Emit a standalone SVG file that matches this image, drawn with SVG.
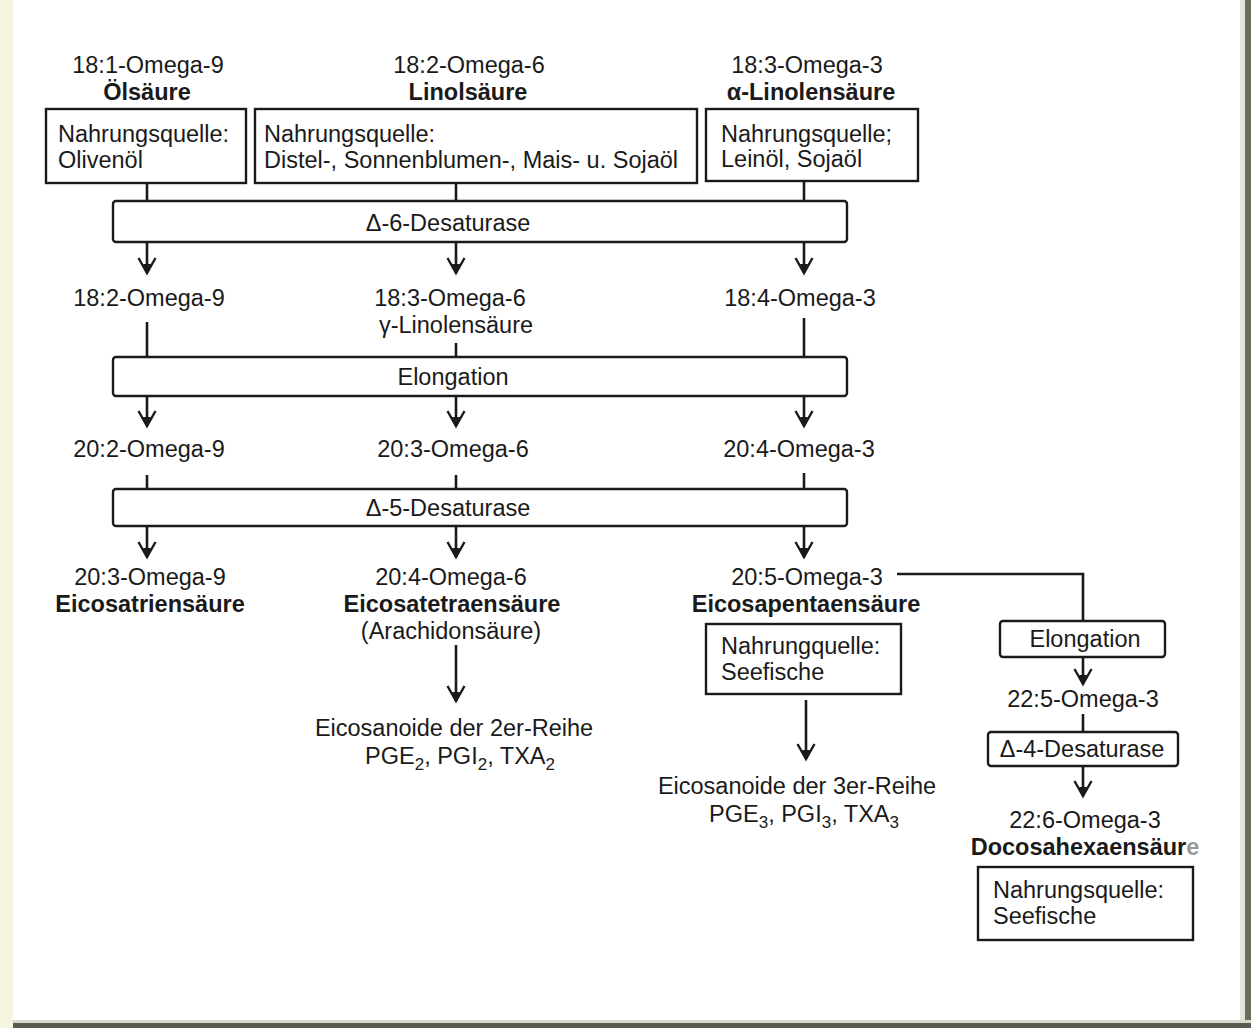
<svg xmlns="http://www.w3.org/2000/svg" width="1251" height="1028" viewBox="0 0 1251 1028">
<style>
  text { font-family: "Liberation Sans", Arial, sans-serif; font-size: 23.5px; fill: #1a1a1a; }
  .b { font-weight: bold; }
  .m { text-anchor: middle; }
  .box { fill: #ffffff; stroke: #1a1a1a; stroke-width: 2.4; }
  .bar { fill: #ffffff; stroke: #1a1a1a; stroke-width: 2.4; }
  .ln { fill: none; stroke: #1a1a1a; stroke-width: 2.6; }
  .sub { font-size: 17px; }
</style>
<defs>
  <marker id="ah" markerUnits="userSpaceOnUse" markerWidth="24" markerHeight="24" viewBox="-18 -12 24 24" refX="0" refY="0" orient="auto">
    <path d="M-15,-8.5 L0,0 L-15,8.5" fill="none" stroke="#1a1a1a" stroke-width="2.4"/>
    <path d="M-9,-4 L0,0 L-9,4 Z" fill="#1a1a1a"/>
  </marker>
</defs>

<!-- page background and scan frame -->
<rect x="0" y="0" width="1251" height="1028" fill="#ffffff"/>
<rect x="0" y="0" width="13" height="1028" fill="#f5f5df"/>
<rect x="1240" y="0" width="5" height="1028" fill="#e4e4dc"/>
<rect x="1245" y="0" width="6" height="1028" fill="#6c6c5c"/>
<rect x="13" y="1020" width="1238" height="3" fill="#d8d8d0"/>
<rect x="13" y="1023" width="1238" height="5" fill="#5a5a4c"/>

<!-- connectors -->
<g id="connectors">
  <line class="ln" x1="147" y1="183" x2="147" y2="201"/>
  <line class="ln" x1="456" y1="183" x2="456" y2="201"/>
  <line class="ln" x1="804" y1="181" x2="804" y2="201"/>
  <line class="ln" x1="147" y1="242" x2="147" y2="273" marker-end="url(#ah)"/>
  <line class="ln" x1="456" y1="242" x2="456" y2="273" marker-end="url(#ah)"/>
  <line class="ln" x1="804" y1="242" x2="804" y2="273" marker-end="url(#ah)"/>
  <line class="ln" x1="147" y1="322" x2="147" y2="357"/>
  <line class="ln" x1="456" y1="343" x2="456" y2="357"/>
  <line class="ln" x1="804" y1="318" x2="804" y2="357"/>
  <line class="ln" x1="147" y1="396" x2="147" y2="426" marker-end="url(#ah)"/>
  <line class="ln" x1="456" y1="396" x2="456" y2="426" marker-end="url(#ah)"/>
  <line class="ln" x1="804" y1="396" x2="804" y2="426" marker-end="url(#ah)"/>
  <line class="ln" x1="147" y1="475" x2="147" y2="489"/>
  <line class="ln" x1="456" y1="475" x2="456" y2="489"/>
  <line class="ln" x1="804" y1="473" x2="804" y2="489"/>
  <line class="ln" x1="147" y1="526" x2="147" y2="557" marker-end="url(#ah)"/>
  <line class="ln" x1="456" y1="526" x2="456" y2="557" marker-end="url(#ah)"/>
  <line class="ln" x1="804" y1="526" x2="804" y2="557" marker-end="url(#ah)"/>
  <line class="ln" x1="456" y1="645" x2="456" y2="701" marker-end="url(#ah)"/>
  <line class="ln" x1="806" y1="700" x2="806" y2="759" marker-end="url(#ah)"/>
  <path class="ln" d="M897,574 L1083,574 L1083,621" stroke-width="3"/>
  <line class="ln" x1="1083" y1="657" x2="1083" y2="684" marker-end="url(#ah)"/>
  <line class="ln" x1="1083" y1="714" x2="1083" y2="732"/>
  <line class="ln" x1="1083" y1="766" x2="1083" y2="796" marker-end="url(#ah)"/>
</g>

<!-- row 1 -->
<g id="oelsaeure">
  <text class="m" x="148" y="73">18:1-Omega-9</text>
  <text class="m b" x="147" y="100">Ölsäure</text>
</g>
<g id="linolsaeure">
  <text class="m" x="469" y="73">18:2-Omega-6</text>
  <text class="m b" x="468" y="100">Linolsäure</text>
</g>
<g id="alinolensaeure">
  <text class="m" x="807" y="73">18:3-Omega-3</text>
  <text class="m b" x="811" y="100">α-Linolensäure</text>
</g>
<g id="quelle1">
  <rect class="box" x="46" y="109" width="200" height="74"/>
  <text x="58" y="142">Nahrungsquelle:</text>
  <text x="58" y="168">Olivenöl</text>
</g>
<g id="quelle2">
  <rect class="box" x="255" y="109" width="442" height="74"/>
  <text x="264" y="142">Nahrungsquelle:</text>
  <text x="264" y="168">Distel-, Sonnenblumen-, Mais- u. Sojaöl</text>
</g>
<g id="quelle3">
  <rect class="box" x="706" y="109" width="212" height="72"/>
  <text x="721" y="142">Nahrungsquelle;</text>
  <text x="721" y="167">Leinöl, Sojaöl</text>
</g>

<g id="d6desaturase">
  <rect class="bar" x="113" y="201" width="734" height="41" rx="3"/>
  <text class="m" x="448" y="231">Δ-6-Desaturase</text>
</g>

<!-- row 2 -->
<g id="n18-2-o9"><text class="m" x="149" y="306">18:2-Omega-9</text></g>
<g id="n18-3-o6">
  <text class="m" x="450" y="306">18:3-Omega-6</text>
  <text class="m" x="456" y="333">γ-Linolensäure</text>
</g>
<g id="n18-4-o3"><text class="m" x="800" y="306">18:4-Omega-3</text></g>

<g id="elongation1">
  <rect class="bar" x="113" y="357" width="734" height="39" rx="3"/>
  <text class="m" x="453" y="385">Elongation</text>
</g>

<!-- row 3 -->
<g id="n20-2-o9"><text class="m" x="149" y="457">20:2-Omega-9</text></g>
<g id="n20-3-o6"><text class="m" x="453" y="457">20:3-Omega-6</text></g>
<g id="n20-4-o3"><text class="m" x="799" y="457">20:4-Omega-3</text></g>

<g id="d5desaturase">
  <rect class="bar" x="113" y="489" width="734" height="37" rx="3"/>
  <text class="m" x="448" y="516">Δ-5-Desaturase</text>
</g>

<!-- row 4 -->
<g id="n20-3-o9">
  <text class="m" x="150" y="585">20:3-Omega-9</text>
  <text class="m b" x="150" y="612">Eicosatriensäure</text>
</g>
<g id="n20-4-o6">
  <text class="m" x="451" y="585">20:4-Omega-6</text>
  <text class="m b" x="452" y="612">Eicosatetraensäure</text>
  <text class="m" x="451" y="639">(Arachidonsäure)</text>
</g>
<g id="n20-5-o3">
  <text class="m" x="807" y="585">20:5-Omega-3</text>
  <text class="m b" x="806" y="612">Eicosapentaensäure</text>
</g>
<g id="quelle4">
  <rect class="box" x="706" y="624" width="195" height="70"/>
  <text x="721" y="654">Nahrungquelle:</text>
  <text x="721" y="680">Seefische</text>
</g>

<g id="eicosanoide2">
  <text class="m" x="454" y="736">Eicosanoide der 2er-Reihe</text>
  <text class="m" x="460" y="764">PGE<tspan class="sub" dy="6">2</tspan><tspan dy="-6">, PGI</tspan><tspan class="sub" dy="6">2</tspan><tspan dy="-6">, TXA</tspan><tspan class="sub" dy="6">2</tspan></text>
</g>
<g id="eicosanoide3">
  <text class="m" x="797" y="794">Eicosanoide der 3er-Reihe</text>
  <text class="m" x="804" y="822">PGE<tspan class="sub" dy="6">3</tspan><tspan dy="-6">, PGI</tspan><tspan class="sub" dy="6">3</tspan><tspan dy="-6">, TXA</tspan><tspan class="sub" dy="6">3</tspan></text>
</g>

<!-- right branch -->
<g id="elongation2">
  <rect class="box" x="1000" y="621" width="165" height="36" rx="3"/>
  <text class="m" x="1085" y="647">Elongation</text>
</g>
<g id="n22-5-o3"><text class="m" x="1083" y="707">22:5-Omega-3</text></g>
<g id="d4desaturase">
  <rect class="box" x="988" y="732" width="190" height="34" rx="3"/>
  <text class="m" x="1082" y="757">Δ-4-Desaturase</text>
</g>
<g id="n22-6-o3">
  <text class="m" x="1085" y="828">22:6-Omega-3</text>
  <text class="m b" x="1085" y="855">Docosahexaensäur<tspan fill="#9a9a9a">e</tspan></text>
</g>
<g id="quelle5">
  <rect class="box" x="978" y="867" width="215" height="73"/>
  <text x="993" y="898">Nahrungsquelle:</text>
  <text x="993" y="924">Seefische</text>
</g>
</svg>
